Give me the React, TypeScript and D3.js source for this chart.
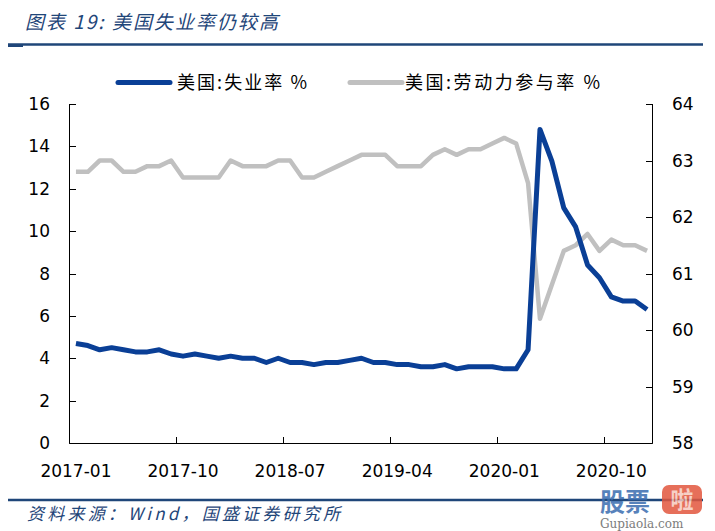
import React from "react";
import * as d3 from "d3";

const months: string[] = [
  "2017-01","2017-02","2017-03","2017-04","2017-05","2017-06","2017-07","2017-08","2017-09","2017-10","2017-11","2017-12",
  "2018-01","2018-02","2018-03","2018-04","2018-05","2018-06","2018-07","2018-08","2018-09","2018-10","2018-11","2018-12",
  "2019-01","2019-02","2019-03","2019-04","2019-05","2019-06","2019-07","2019-08","2019-09","2019-10","2019-11","2019-12",
  "2020-01","2020-02","2020-03","2020-04","2020-05","2020-06","2020-07","2020-08","2020-09","2020-10","2020-11","2020-12",
  "2021-01",
];

const unemployment: number[] = [
  4.7, 4.6, 4.4, 4.5, 4.4, 4.3, 4.3, 4.4, 4.2, 4.1, 4.2, 4.1,
  4.0, 4.1, 4.0, 4.0, 3.8, 4.0, 3.8, 3.8, 3.7, 3.8, 3.8, 3.9,
  4.0, 3.8, 3.8, 3.7, 3.7, 3.6, 3.6, 3.7, 3.5, 3.6, 3.6, 3.6,
  3.5, 3.5, 4.4, 14.8, 13.3, 11.1, 10.2, 8.4, 7.8, 6.9, 6.7, 6.7,
  6.3,
];

const participation: number[] = [
  62.8, 62.8, 63.0, 63.0, 62.8, 62.8, 62.9, 62.9, 63.0, 62.7, 62.7, 62.7,
  62.7, 63.0, 62.9, 62.9, 62.9, 63.0, 63.0, 62.7, 62.7, 62.8, 62.9, 63.0,
  63.1, 63.1, 63.1, 62.9, 62.9, 62.9, 63.1, 63.2, 63.1, 63.2, 63.2, 63.3,
  63.4, 63.3, 62.6, 60.2, 60.8, 61.4, 61.5, 61.7, 61.4, 61.6, 61.5, 61.5,
  61.4,
];

const xTickLabels: string[] = ["2017-01", "2017-10", "2018-07", "2019-04", "2020-01", "2020-10"];
const leftTicks: number[] = [0, 2, 4, 6, 8, 10, 12, 14, 16];
const rightTicks: number[] = [58, 59, 60, 61, 62, 63, 64];
const seriesNames: string[] = ["美国:失业率 %", "美国:劳动力参与率 %"];
const title = "图表 19:  美国失业率仍较高";
const source = "资料来源：Wind，国盛证券研究所";

const BLUE = "#0A3F96";
const GRAY = "#C0C0C0";
const DARK = "#1F4679";
const NUM_FONT = "'DejaVu Sans', Verdana, sans-serif";
const CJK_FONT = "'Noto Sans CJK SC', sans-serif";

export default function App() {
  const left = 70, right = 653, top = 104, bottom = 443;
  const x = d3.scaleBand<string>().domain(months).range([left, right]).paddingInner(0).paddingOuter(0);
  const bw = x.bandwidth();
  const cx = (m: string) => (x(m) as number) + bw / 2;
  const yL = d3.scaleLinear().domain([0, 16]).range([bottom, top]);
  const yR = d3.scaleLinear().domain([58, 64]).range([bottom, top]);

  const lineL = d3.line<number>().x((_, i) => cx(months[i])).y((d) => yL(d));
  const lineR = d3.line<number>().x((_, i) => cx(months[i])).y((d) => yR(d));

  return (
    <svg width={715} height={531} style={{ position: "absolute", left: 0, top: 0, background: "#fff" }}>
      {/* title */}
      <text x={25} y={29} fontFamily={CJK_FONT} fontStyle="italic" fontSize={19} fill={DARK}
        textLength={253} lengthAdjust="spacing">{title}</text>
      <line x1={8} x2={703} y1={44.5} y2={44.5} stroke={DARK} strokeWidth={2.5} />
      <rect x={8} y={44} width={15} height={3} fill={DARK} />

      {/* legend */}
      <line x1={118} x2={170} y1={82.5} y2={82.5} stroke={BLUE} strokeWidth={5} strokeLinecap="round" />
      <text x={177} y={89} fontFamily={CJK_FONT} fontSize={18} fill="#000" textLength={130} lengthAdjust="spacing">{seriesNames[0]}</text>
      <line x1={350} x2={402} y1={82.5} y2={82.5} stroke={GRAY} strokeWidth={5} strokeLinecap="round" />
      <text x={405} y={89} fontFamily={CJK_FONT} fontSize={18} fill="#000" textLength={195} lengthAdjust="spacing">{seriesNames[1]}</text>

      {/* axes */}
      <g stroke="#000" strokeWidth={1} fill="none">
        <line x1={left - 0.5} x2={left - 0.5} y1={top} y2={bottom + 0.5} />
        <line x1={right - 0.5} x2={right - 0.5} y1={top} y2={bottom + 0.5} />
        <line x1={left - 0.5} x2={right - 0.5} y1={bottom + 0.5} y2={bottom + 0.5} />
        {leftTicks.map((t) => (
          <line key={"lt" + t} x1={left - 0.5} x2={left + 6} y1={Math.round(yL(t)) + 0.5} y2={Math.round(yL(t)) + 0.5} />
        ))}
        {rightTicks.map((t) => (
          <line key={"rt" + t} x1={right - 7} x2={right - 0.5} y1={Math.round(yR(t)) + 0.5} y2={Math.round(yR(t)) + 0.5} />
        ))}
        {xTickLabels.map((m) => {
          const xx = Math.round(x(m) as number) - 0.5;
          return <line key={"xt" + m} x1={xx} x2={xx} y1={bottom + 0.5} y2={bottom - 6} />;
        })}
      </g>

      {/* tick labels */}
      <g fontFamily={NUM_FONT} fontSize={17} fill="#000">
        {leftTicks.map((t) => (
          <text key={"ll" + t} x={50} y={yL(t)} textAnchor="end" dominantBaseline="central">{t}</text>
        ))}
        {rightTicks.map((t) => (
          <text key={"rl" + t} x={672} y={yR(t)} textAnchor="start" dominantBaseline="central">{t}</text>
        ))}
        {xTickLabels.map((m) => (
          <text key={"xl" + m} x={cx(m)} y={477} textAnchor="middle">{m}</text>
        ))}
      </g>

      {/* series */}
      <path d={lineR(participation) as string} fill="none" stroke={GRAY} strokeWidth={4.5} strokeLinejoin="round" />
      <path d={lineL(unemployment) as string} fill="none" stroke={BLUE} strokeWidth={5} strokeLinejoin="round" />

      {/* footer */}
      <line x1={8} x2={703} y1={500} y2={500} stroke={DARK} strokeWidth={2.5} />
      <text x={27} y={520} fontFamily={CJK_FONT} fontStyle="italic" fontSize={17} fill={DARK}
        textLength={313} lengthAdjust="spacing">{source}</text>

      {/* watermark */}
      <g opacity={0.85}>
        <text x={600} y={511} fontFamily={CJK_FONT} fontWeight="bold" fontSize={25} fill="#3A6DB0">股票</text>
        <rect x={662} y={485} width={40} height={29} rx={7} fill="#E2573E" />
        <text x={682} y={508} textAnchor="middle" fontFamily={CJK_FONT} fontWeight="bold" fontSize={23} fill="#F6C9BE">啦</text>
        <text x={600} y={528} fontFamily="'DejaVu Serif', serif" fontSize={12} fill="#666">Gupiaola.com</text>
      </g>
    </svg>
  );
}
